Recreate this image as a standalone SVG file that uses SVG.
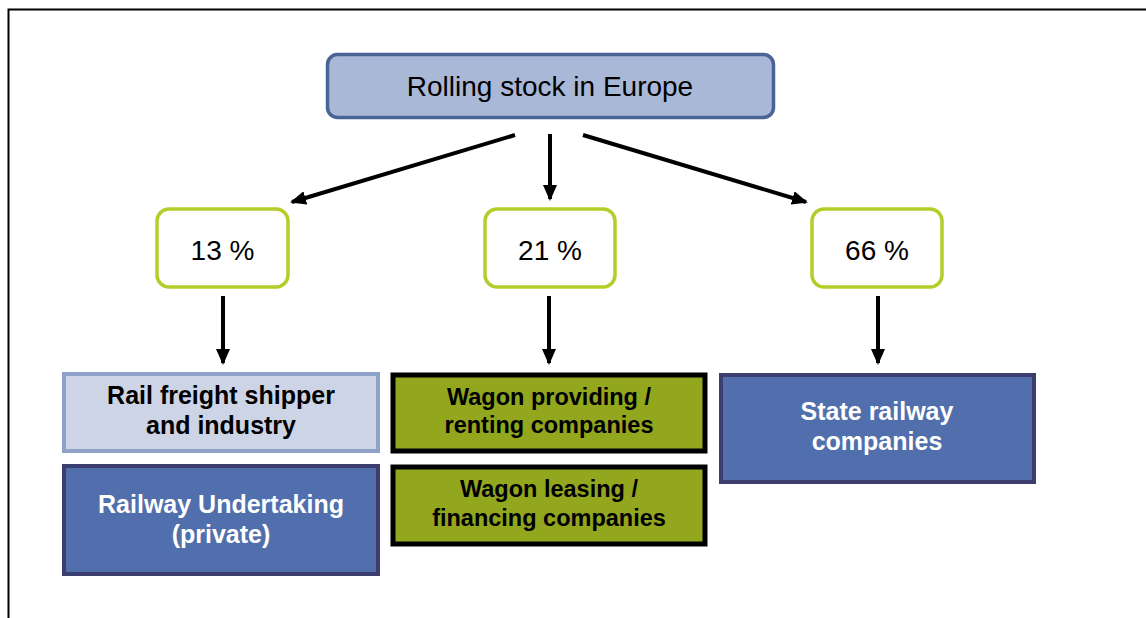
<svg xmlns="http://www.w3.org/2000/svg" width="1146" height="618" viewBox="0 0 1146 618">
<defs>
<marker id="ah2" markerWidth="16" markerHeight="14" refX="14" refY="7" orient="auto" markerUnits="userSpaceOnUse" viewBox="0 0 16 14">
<path d="M0,0 L16,7 L0,14 z" fill="#000"/>
</marker>
</defs>
<style>
text{font-family:"Liberation Sans",Arial,sans-serif;text-anchor:middle}
.reg{font-size:28px;fill:#000}
.pct{fill:#fff;stroke:#b5cc2a;stroke-width:3.5}
.lb{fill:#ccd4e6;stroke:#8ea1c8;stroke-width:4}
.db{fill:#516fac;stroke:#3b3e6e;stroke-width:4}
.gb{fill:#92a61e;stroke:#000;stroke-width:5}
.bk{font-size:25px;font-weight:bold;fill:#000}
.gk{font-size:23.5px;font-weight:bold;fill:#000}
.wh{font-size:25px;font-weight:bold;fill:#fff}
.con{stroke:#000;stroke-width:4;fill:none}
</style>
<rect width="1146" height="618" fill="#fff"/>
<path d="M8.5,618 V9.5 H1146" fill="none" stroke="#000" stroke-width="2"/>
<g id="top">
<rect x="327.5" y="54.5" width="446" height="63" rx="10" fill="#aab8d8" stroke="#4a6496" stroke-width="3.5"/>
<text class="reg" x="550" y="96">Rolling stock in Europe</text>
</g>
<g id="p13">
<rect class="pct" x="157" y="209" width="131" height="78" rx="12"/>
<text class="reg" x="222.5" y="260">13 %</text>
</g>
<g id="p21">
<rect class="pct" x="485" y="209" width="130" height="78" rx="12"/>
<text class="reg" x="550" y="260">21 %</text>
</g>
<g id="p66">
<rect class="pct" x="812" y="209" width="130" height="78" rx="12"/>
<text class="reg" x="877" y="260">66 %</text>
</g>
<g id="shipper">
<rect class="lb" x="64" y="374" width="314" height="77"/>
<text class="bk" x="221" y="404">Rail freight shipper</text>
<text class="bk" x="221" y="434">and industry</text>
</g>
<g id="ru">
<rect class="db" x="64" y="466" width="314" height="108"/>
<text class="wh" x="221" y="513">Railway Undertaking</text>
<text class="wh" x="221" y="543">(private)</text>
</g>
<g id="providing">
<rect class="gb" x="393" y="375" width="312" height="76"/>
<text class="gk" x="549" y="405">Wagon providing /</text>
<text class="gk" x="549" y="433">renting companies</text>
</g>
<g id="leasing">
<rect class="gb" x="393" y="467" width="312" height="77"/>
<text class="gk" x="549" y="497">Wagon leasing /</text>
<text class="gk" x="549" y="526">financing companies</text>
</g>
<g id="state">
<rect class="db" x="721" y="375" width="313" height="107"/>
<text class="wh" x="877" y="420">State railway</text>
<text class="wh" x="877" y="450">companies</text>
</g>
<g id="connectors">
<line class="con" x1="515" y1="135" x2="292" y2="202" marker-end="url(#ah2)"/>
<line class="con" x1="550" y1="134" x2="550" y2="199" marker-end="url(#ah2)"/>
<line class="con" x1="583" y1="135" x2="806" y2="202" marker-end="url(#ah2)"/>
<line class="con" x1="223" y1="296" x2="223" y2="363" marker-end="url(#ah2)"/>
<line class="con" x1="549" y1="296" x2="549" y2="363" marker-end="url(#ah2)"/>
<line class="con" x1="878" y1="296" x2="878" y2="363" marker-end="url(#ah2)"/>
</g>
</svg>
